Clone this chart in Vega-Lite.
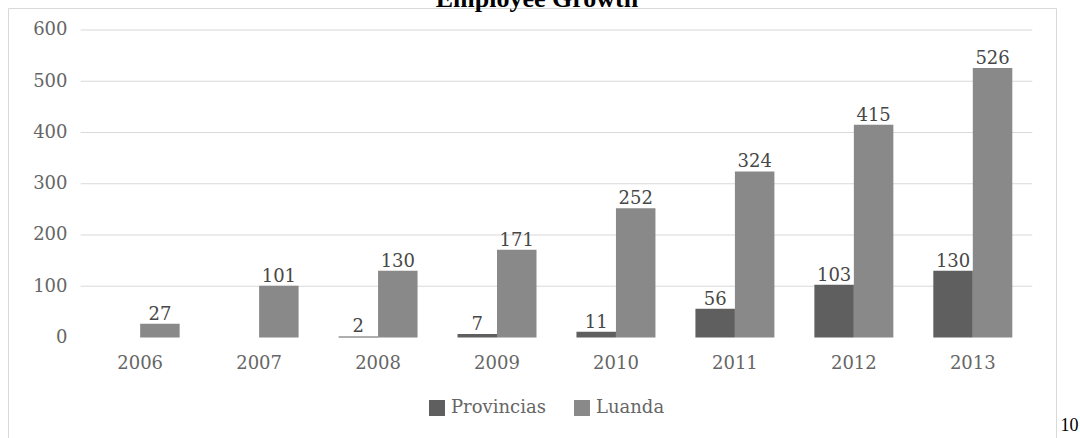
{
  "$schema": "https://vega.github.io/schema/vega-lite/v6.json",
  "width": 1048,
  "height": 430,
  "autosize": {"type": "none"},
  "padding": {"left": 8, "top": 8, "right": 24, "bottom": 0},
  "background": "#ffffff",
  "title": {
    "text": "Employee Growth",
    "font": "Liberation Serif",
    "fontSize": 26,
    "fontWeight": "bold",
    "color": "#000000",
    "anchor": "middle",
    "offset": -4,
    "dx": 5
  },
  "config": {
    "view": {"stroke": "#d9d9d9", "strokeWidth": 1},
    "axisX": {
      "titleFont": "Liberation Serif",
      "titleFontSize": 18,
      "titleFontWeight": "normal",
      "titleColor": "#000000",
      "titleX": 1052,
      "titleY": 92.5,
      "titleAlign": "left",
      "titleAnchor": "start",
      "titleBaseline": "alphabetic"
    }
  },
  "datasets": {
    "bars": [
      {"year": "2006", "series": "Luanda", "value": 27},
      {"year": "2007", "series": "Luanda", "value": 101},
      {"year": "2008", "series": "Provincias", "value": 2},
      {"year": "2008", "series": "Luanda", "value": 130},
      {"year": "2009", "series": "Provincias", "value": 7},
      {"year": "2009", "series": "Luanda", "value": 171},
      {"year": "2010", "series": "Provincias", "value": 11},
      {"year": "2010", "series": "Luanda", "value": 252},
      {"year": "2011", "series": "Provincias", "value": 56},
      {"year": "2011", "series": "Luanda", "value": 324},
      {"year": "2012", "series": "Provincias", "value": 103},
      {"year": "2012", "series": "Luanda", "value": 415},
      {"year": "2013", "series": "Provincias", "value": 130},
      {"year": "2013", "series": "Luanda", "value": 526}
    ],
    "grid": [
      {"v": 100}, {"v": 200}, {"v": 300}, {"v": 400}, {"v": 500}, {"v": 600}
    ]
  },
  "layer": [
    {
      "data": {"name": "grid"},
      "mark": {"type": "rule", "color": "#d9d9d9", "strokeWidth": 1},
      "encoding": {
        "y": {
          "field": "v",
          "type": "quantitative",
          "scale": {"domain": [-196.1, 642.9], "nice": false, "zero": false},
          "axis": {
            "title": null,
            "values": [0, 100, 200, 300, 400, 500, 600],
            "grid": false,
            "domain": false,
            "ticks": false,
            "tickSize": 0,
            "labelPadding": -59,
            "labelFont": "DejaVu Serif",
            "labelFontSize": 18,
            "labelColor": "#666666"
          }
        },
        "x": {
          "datum": "2006",
          "type": "nominal",
          "bandPosition": 0,
          "scale": {
            "domain": ["2006", "2007", "2008", "2009", "2010", "2011", "2012", "2013"],
            "paddingInner": 0,
            "paddingOuter": 0.4052,
            "align": 0.754
          },
          "axis": {
            "title": "10",
            "orient": "bottom",
            "offset": -100.5,
            "domain": false,
            "ticks": false,
            "tickSize": 0,
            "grid": false,
            "labelPadding": 26,
            "labelBaseline": "middle",
            "labelAngle": 0,
            "labelFont": "DejaVu Serif",
            "labelFontSize": 18,
            "labelColor": "#666666",
            "titleX": 1052,
            "titleY": 92.5,
            "titleAlign": "left",
            "titleAnchor": "start",
            "titleBaseline": "alphabetic",
            "titleFont": "Liberation Serif",
            "titleFontSize": 18,
            "titleFontWeight": "normal",
            "titleColor": "#000000"
          }
        },
        "x2": {"datum": "2013", "bandPosition": 1}
      }
    },
    {
      "data": {"name": "bars"},
      "encoding": {
        "x": {
          "field": "year",
          "type": "nominal",
          "title": "10"
        },
        "xOffset": {
          "field": "series",
          "type": "nominal",
          "scale": {"domain": ["Provincias", "Luanda"], "paddingInner": 0, "paddingOuter": 0.506}
        },
        "y": {
          "field": "value",
          "type": "quantitative",
          "title": null
        },
        "color": {
          "field": "series",
          "type": "nominal",
          "scale": {"domain": ["Provincias", "Luanda"], "range": ["#5f5f5f", "#898989"]},
          "legend": {
            "title": null,
            "orient": "none",
            "legendX": 420,
            "legendY": 391,
            "direction": "horizontal",
            "padding": 0,
            "symbolType": "square",
            "symbolSize": 256,
            "symbolStrokeWidth": 0,
            "symbolOpacity": 1,
            "labelFont": "DejaVu Serif",
            "labelFontSize": 18,
            "labelColor": "#666666",
            "labelOffset": 5,
            "columnPadding": 27
          }
        }
      },
      "layer": [
        {"mark": {"type": "bar"}},
        {
          "mark": {
            "type": "text",
            "baseline": "alphabetic",
            "dy": -4,
            "font": "DejaVu Serif",
            "fontSize": 18
          },
          "encoding": {
            "text": {"field": "value", "type": "quantitative"},
            "color": {"value": "#474747"}
          }
        }
      ]
    }
  ]
}
